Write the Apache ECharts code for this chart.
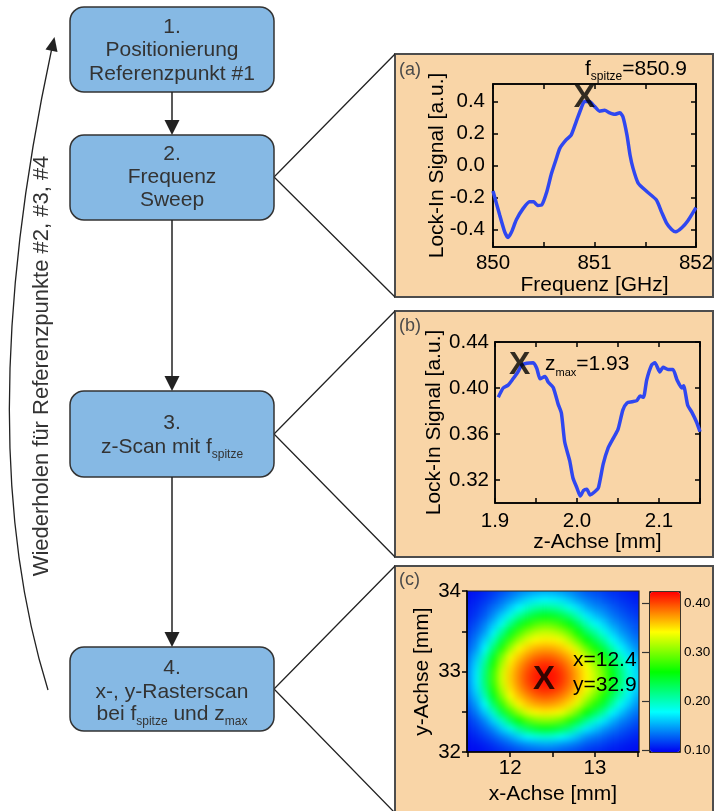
<!DOCTYPE html>
<html>
<head>
<meta charset="utf-8">
<script src="https://cdn.jsdelivr.net/npm/echarts@6/dist/echarts.min.js"></script>
<style>
  html, body { margin: 0; padding: 0; background: #ffffff; }
  #chart { width: 714px; height: 811px; }
  /* the raster-scan layer (zlevel 1) is shaded smoothly and cropped to its plot rectangle */
  #chart canvas[data-zr-dom-id="zr_1"] {
    filter: blur(3.5px);
    clip-path: inset(591px 75px 59px 467px);
  }
</style>
</head>
<body>
<div id="chart"></div>
<script>
// ---------- (a) frequency sweep ----------
const freqGHz = [850.0, 850.066, 850.115, 850.148, 850.18, 850.23, 850.296, 850.36, 850.4, 850.44,
  850.48, 850.53, 850.576, 850.625, 850.658, 850.72, 850.77, 850.82, 850.87, 850.9,
  850.95, 851.0, 851.05, 851.1, 851.15, 851.2, 851.25, 851.28, 851.32, 851.35,
  851.38, 851.43, 851.51, 851.61, 851.66, 851.71, 851.76, 851.8, 851.86, 851.92, 852.0];
const sweepSignal = [-0.16, -0.31, -0.415, -0.45, -0.42, -0.34, -0.27, -0.227, -0.227, -0.25,
  -0.247, -0.164, -0.05, 0.045, 0.107, 0.16, 0.19, 0.275, 0.36, 0.40,
  0.40, 0.37, 0.34, 0.345, 0.33, 0.32, 0.33, 0.305, 0.19, 0.066,
  -0.018, -0.11, -0.16, -0.216, -0.29, -0.36, -0.40, -0.415, -0.39, -0.346, -0.264];
const fSpitze = 850.9;
const fSpitzeSignal = 0.42;
const freqTickLabels = [850, 851, 852];
const freqTickMarks = [850, 850.5, 851, 851.5, 852];
const sweepTicks = [-0.4, -0.2, 0, 0.2, 0.4];

// ---------- (b) z scan ----------
const zPosMm = [1.904, 1.910, 1.916, 1.922, 1.928, 1.9325, 1.9386, 1.9467, 1.951, 1.955,
  1.961, 1.965, 1.971, 1.977, 1.981, 1.985, 1.991, 1.995, 2.0, 2.004,
  2.008, 2.012, 2.016, 2.022, 2.026, 2.032, 2.038, 2.044, 2.05, 2.056,
  2.061, 2.067, 2.073, 2.077, 2.081, 2.085, 2.091, 2.095, 2.101, 2.105,
  2.111, 2.117, 2.122, 2.128, 2.130, 2.135, 2.140, 2.146, 2.15];
const zScanSignal = [0.392, 0.400, 0.4025, 0.408, 0.414, 0.42, 0.4215, 0.422, 0.417, 0.408,
  0.41, 0.405, 0.4005, 0.386, 0.378, 0.353, 0.337, 0.322, 0.313, 0.306,
  0.311, 0.312, 0.307, 0.310, 0.313, 0.334, 0.348, 0.356, 0.364, 0.381,
  0.387, 0.388, 0.389, 0.393, 0.392, 0.407, 0.42, 0.422, 0.414, 0.418,
  0.416, 0.416, 0.407, 0.40, 0.402, 0.385, 0.379, 0.37, 0.362];
const zMax = 1.93;
const zMaxSignal = 0.42;
const zTickLabels = [1.9, 2.0, 2.1];
const zTickMarks = [1.9, 1.95, 2.0, 2.05, 2.1, 2.15];
const zScanTicks = [0.32, 0.36, 0.40, 0.44];

// ---------- (c) x-y raster scan ----------
const rasterX = [11.5, 11.6, 11.7, 11.8, 11.9, 12.0, 12.1, 12.2, 12.3, 12.4, 12.5,
  12.6, 12.7, 12.8, 12.9, 13.0, 13.1, 13.2, 13.3, 13.4, 13.5];
const rasterY = [32.0, 32.1, 32.2, 32.3, 32.4, 32.5, 32.6, 32.7, 32.8, 32.9, 33.0,
  33.1, 33.2, 33.3, 33.4, 33.5, 33.6, 33.7, 33.8, 33.9, 34.0];
// one row per rasterY entry, one column per rasterX entry
const rasterSignal = [
  [0.100,0.100,0.103,0.106,0.110,0.114,0.118,0.122,0.124,0.125,0.125,0.123,0.120,0.116,0.112,0.109,0.107,0.104,0.103,0.101,0.100],
  [0.101,0.104,0.108,0.114,0.121,0.128,0.136,0.142,0.146,0.149,0.148,0.143,0.138,0.132,0.124,0.120,0.116,0.111,0.108,0.105,0.103],
  [0.104,0.110,0.117,0.126,0.138,0.150,0.165,0.177,0.186,0.191,0.189,0.180,0.170,0.157,0.143,0.136,0.129,0.122,0.117,0.112,0.108],
  [0.109,0.117,0.128,0.142,0.163,0.185,0.212,0.232,0.246,0.252,0.249,0.238,0.221,0.197,0.173,0.161,0.147,0.137,0.128,0.121,0.115],
  [0.114,0.125,0.141,0.165,0.196,0.231,0.261,0.284,0.298,0.304,0.302,0.291,0.271,0.243,0.214,0.192,0.173,0.155,0.141,0.132,0.123],
  [0.121,0.137,0.161,0.195,0.238,0.277,0.309,0.332,0.343,0.347,0.345,0.338,0.319,0.291,0.258,0.234,0.209,0.178,0.161,0.144,0.133],
  [0.128,0.148,0.180,0.228,0.275,0.315,0.344,0.359,0.369,0.373,0.371,0.363,0.350,0.329,0.296,0.270,0.243,0.209,0.180,0.161,0.143],
  [0.134,0.160,0.201,0.252,0.301,0.340,0.361,0.377,0.390,0.395,0.392,0.383,0.368,0.348,0.321,0.296,0.267,0.232,0.201,0.173,0.153],
  [0.139,0.169,0.217,0.270,0.319,0.351,0.374,0.393,0.407,0.412,0.410,0.399,0.382,0.361,0.339,0.314,0.286,0.249,0.217,0.184,0.162],
  [0.141,0.173,0.224,0.279,0.327,0.357,0.380,0.401,0.414,0.419,0.417,0.407,0.389,0.366,0.344,0.322,0.294,0.256,0.224,0.191,0.166],
  [0.141,0.172,0.222,0.277,0.326,0.356,0.379,0.399,0.412,0.418,0.416,0.406,0.387,0.365,0.343,0.321,0.293,0.255,0.222,0.189,0.165],
  [0.138,0.167,0.213,0.266,0.315,0.349,0.371,0.390,0.404,0.409,0.407,0.396,0.379,0.358,0.337,0.310,0.282,0.245,0.213,0.181,0.160],
  [0.133,0.158,0.197,0.248,0.297,0.337,0.357,0.374,0.386,0.391,0.389,0.379,0.365,0.346,0.317,0.292,0.263,0.228,0.197,0.171,0.151],
  [0.127,0.145,0.177,0.223,0.269,0.309,0.340,0.355,0.365,0.369,0.367,0.359,0.346,0.323,0.291,0.264,0.237,0.204,0.177,0.158,0.141],
  [0.122,0.138,0.163,0.197,0.240,0.279,0.310,0.331,0.342,0.346,0.345,0.337,0.318,0.290,0.259,0.235,0.210,0.180,0.162,0.145,0.134],
  [0.117,0.130,0.147,0.175,0.212,0.248,0.280,0.302,0.317,0.323,0.320,0.309,0.290,0.261,0.230,0.208,0.184,0.164,0.147,0.136,0.126],
  [0.112,0.123,0.138,0.158,0.183,0.217,0.246,0.269,0.283,0.290,0.287,0.276,0.256,0.230,0.201,0.180,0.166,0.148,0.138,0.128,0.121],
  [0.108,0.116,0.127,0.143,0.164,0.186,0.211,0.231,0.245,0.251,0.249,0.239,0.222,0.198,0.174,0.160,0.148,0.136,0.128,0.121,0.115],
  [0.106,0.112,0.121,0.132,0.144,0.162,0.178,0.195,0.208,0.213,0.211,0.201,0.185,0.169,0.153,0.143,0.136,0.127,0.121,0.115,0.110],
  [0.103,0.108,0.114,0.122,0.133,0.143,0.155,0.166,0.173,0.177,0.175,0.170,0.160,0.147,0.138,0.131,0.125,0.119,0.114,0.110,0.107],
  [0.101,0.104,0.109,0.115,0.122,0.130,0.138,0.144,0.149,0.152,0.151,0.146,0.140,0.133,0.125,0.121,0.117,0.112,0.109,0.106,0.103]
];
const peakX = 12.4;
const peakY = 32.9;
const rasterXLabels = [12, 13];
const rasterXMarks = [11.5, 12, 12.5, 13, 13.5];
const rasterYLabels = [32, 33, 34];
const rasterYMarks = [32, 32.5, 33, 33.5, 34];
const colorbarTicks = [0.10, 0.20, 0.30, 0.40];
const colorMin = 0.097;
const colorMax = 0.4225;

// ---------- styling ----------
const FONT = '"Liberation Sans", Arial, Helvetica, sans-serif';
const PEACH = '#f9d5a7';
const BOX_BLUE = '#86b9e4';
const CURVE_BLUE = '#2f47f0';
const INK = '#333333';
const TICK_FS = 20.5;
const NAME_FS = 21;

const chart = echarts.init(document.getElementById('chart'), null, { renderer: 'canvas' });

const lineStyleAxis = { color: '#000', width: 1.5 };

function bottomAxis(grid, min, max, marks, labels, fmt, name, gap, inside, margin, zlevel) {
  return {
    gridIndex: grid, type: 'value', position: 'bottom', min, max, zlevel: zlevel || 0,
    axisLine: { show: true, onZero: false, lineStyle: lineStyleAxis },
    axisTick: { show: true, inside, length: 5, customValues: marks, lineStyle: lineStyleAxis },
    axisLabel: { customValues: labels, formatter: fmt, fontSize: TICK_FS, fontFamily: FONT, color: '#000', margin },
    splitLine: { show: false },
    name, nameLocation: 'middle', nameGap: gap, nameMoveOverlap: false,
    nameTextStyle: { fontSize: NAME_FS, fontFamily: FONT, color: '#000' }
  };
}
function leftAxis(grid, min, max, marks, labels, fmt, name, gap, inside, margin, zlevel) {
  return {
    gridIndex: grid, type: 'value', position: 'left', min, max, zlevel: zlevel || 0,
    axisLine: { show: true, onZero: false, lineStyle: lineStyleAxis },
    axisTick: { show: true, inside, length: 5, customValues: marks, lineStyle: lineStyleAxis },
    axisLabel: { customValues: labels, formatter: fmt, fontSize: TICK_FS, fontFamily: FONT, color: '#000', margin },
    splitLine: { show: false },
    name, nameLocation: 'middle', nameGap: gap, nameMoveOverlap: false,
    nameTextStyle: { fontSize: NAME_FS, fontFamily: FONT, color: '#000' }
  };
}
function mirrorAxis(grid, pos, min, max, marks) {
  return {
    gridIndex: grid, type: 'value', position: pos, min, max,
    axisLine: { show: true, onZero: false, lineStyle: lineStyleAxis },
    axisTick: { show: true, inside: true, length: 5, customValues: marks, lineStyle: lineStyleAxis },
    axisLabel: { show: false },
    splitLine: { show: false }
  };
}

// raster cells as [x, y, signal]
const rasterData = [];
rasterY.forEach((y, j) => {
  rasterX.forEach((x, i) => { rasterData.push([x, y, rasterSignal[j][i]]); });
});
const halfStepX = (rasterX[1] - rasterX[0]) / 2;
const halfStepY = (rasterY[1] - rasterY[0]) / 2;
const xFirst = rasterX[0], xLast = rasterX[rasterX.length - 1];
const yFirst = rasterY[0], yLast = rasterY[rasterY.length - 1];

function renderCell(params, api) {
  const x = api.value(0);
  const y = api.value(1);
  const p0 = api.coord([x - halfStepX, y + halfStepY]);
  const p1 = api.coord([x + halfStepX, y - halfStepY]);
  let x0 = p0[0], y0 = p0[1], x1 = p1[0] + 0.7, y1 = p1[1] + 0.7;
  // outer cells reach past the frame so the shaded edge stays saturated
  if (x === xFirst) x0 -= 12;
  if (x === xLast) x1 += 12;
  if (y === yLast) y0 -= 12;
  if (y === yFirst) y1 += 12;
  return { type: 'rect', shape: { x: x0, y: y0, width: x1 - x0, height: y1 - y0 }, style: { fill: api.visual('color') } };
}

function markerSeries(xIdx, yIdx, point, size, zlevel) {
  return {
    type: 'scatter', xAxisIndex: xIdx, yAxisIndex: yIdx, data: [point], zlevel: zlevel || 0,
    symbolSize: 1, itemStyle: { color: 'rgba(0,0,0,0)' }, silent: true, z: 6,
    label: { show: true, position: 'inside', formatter: 'X', fontSize: size, fontWeight: 'bold', fontFamily: FONT, color: '#000' }
  };
}

// ---------- decorations: flowchart, panels, annotations ----------
function txt(x, y, text, extra, elExtra) {
  return Object.assign({
    type: 'text', x, y, z: 30, silent: true,
    style: Object.assign({ text, fontSize: 21, fontFamily: FONT, fill: INK, align: 'center', verticalAlign: 'middle' }, extra || {})
  }, elExtra || {});
}
function subTxt(x, y, parts, mainSize, subSize, color, align) {
  const text = parts.map(p => '{' + (p[1] ? 's' : 'm') + '|' + p[0] + '}').join('');
  return txt(x, y, text, {
    align, fill: color,
    rich: {
      m: { fontSize: mainSize, fontFamily: FONT, fill: color, lineHeight: 28 },
      s: { fontSize: subSize, fontFamily: FONT, fill: color, lineHeight: 12, verticalAlign: 'bottom' }
    }
  });
}
function box(y, h) {
  return { type: 'rect', z: 10, silent: true, shape: { x: 70, y, width: 204, height: h, r: 14 },
    style: { fill: BOX_BLUE, stroke: '#333', lineWidth: 1.5 } };
}
function arrowDown(y1, y2) {
  return [
    { type: 'line', z: 10, silent: true, shape: { x1: 172, y1, x2: 172, y2: y2 - 13 }, style: { stroke: '#222', lineWidth: 1.5 } },
    { type: 'polygon', z: 10, silent: true, shape: { points: [[164.5, y2 - 15], [179.5, y2 - 15], [172, y2]] }, style: { fill: '#222' } }
  ];
}
function panel(y, h) {
  return { type: 'rect', z: -10, silent: true, shape: { x: 395, y, width: 318, height: h },
    style: { fill: PEACH, stroke: '#4d4d4d', lineWidth: 2 } };
}
function zoomLines(yBox, yTop, yBottom) {
  return { type: 'polyline', z: 5, silent: true, shape: { points: [[395, yTop], [274, yBox], [395, yBottom]] },
    style: { stroke: '#222', lineWidth: 1.3, fill: null } };
}

const graphics = [
  panel(54, 243), panel(311, 246), panel(566, 250),
  zoomLines(177, 54, 297), zoomLines(434, 311, 557), zoomLines(689, 566, 813),
  box(7, 85), box(135, 85), box(391, 86), box(647, 84),
  ...arrowDown(92, 135), ...arrowDown(220, 391), ...arrowDown(477, 647),
  txt(172, 27, '1.'), txt(172, 50, 'Positionierung'), txt(172, 74, 'Referenzpunkt #1'),
  txt(172, 154, '2.'), txt(172, 177, 'Frequenz'), txt(172, 200, 'Sweep'),
  txt(172, 423, '3.'),
  subTxt(172, 447, [['z-Scan mit f', false], ['spitze', true]], 21, 12, INK, 'center'),
  txt(172, 668, '4.'), txt(172, 692, 'x-, y-Rasterscan'),
  subTxt(172, 714, [['bei f', false], ['spitze', true], [' und z', false], ['max', true]], 21, 12, INK, 'center'),
  // loop-back arrow on the left
  { type: 'bezierCurve', z: 10, silent: true,
    shape: { x1: 48, y1: 690, x2: 51.5, y2: 50, cpx1: -31, cpy1: 435 },
    style: { stroke: '#222', lineWidth: 1.3, fill: null } },
  { type: 'polygon', z: 10, silent: true, shape: { points: [[54.5, 37], [57.5, 52], [45.5, 49.5]] }, style: { fill: '#222' } },
  txt(42, 366, 'Wiederholen für Referenzpunkte #2, #3, #4', { fontSize: 22 }, { rotation: Math.PI / 2 }),
  // panel tags
  txt(399, 70, '(a)', { align: 'left', fontSize: 18, fill: '#4a4a4a' }),
  txt(399, 326, '(b)', { align: 'left', fontSize: 18, fill: '#4a4a4a' }),
  txt(399, 580, '(c)', { align: 'left', fontSize: 18, fill: '#4a4a4a' }),
  // annotations
  subTxt(585, 69, [['f', false], ['spitze', true], ['=' + fSpitze.toFixed(1), false]], 21, 12, '#000', 'left'),
  subTxt(545, 364, [['z', false], ['max', true], ['=' + zMax.toFixed(2), false]], 21, 11, '#000', 'left'),
  txt(573, 660, 'x=' + peakX.toFixed(1), { align: 'left', fill: '#000' }, { zlevel: 2 }),
  txt(573, 685, 'y=' + peakY.toFixed(1), { align: 'left', fill: '#000' }, { zlevel: 2 })
];

const gridBase = { show: true, borderColor: '#000', borderWidth: 1.5, backgroundColor: 'transparent', containLabel: false, outerBoundsMode: 'none' };

const option = {
  animation: false,
  backgroundColor: '#ffffff',
  textStyle: { fontFamily: FONT },
  grid: [
    Object.assign({ left: 493, top: 84, width: 203, height: 163 }, gridBase),
    Object.assign({ left: 495, top: 342, width: 205, height: 161 }, gridBase),
    Object.assign({ left: 467, top: 591, width: 172, height: 161, zlevel: 2 }, gridBase, { borderWidth: 1.2, borderColor: '#222' }),
    Object.assign({ left: 650, top: 592, width: 30, height: 160 }, gridBase)
  ],
  xAxis: [
    bottomAxis(0, 850, 852, freqTickMarks, freqTickLabels, v => String(v), 'Frequenz [GHz]', 28, true, 6),
    mirrorAxis(0, 'top', 850, 852, freqTickMarks),
    bottomAxis(1, 1.9, 2.15, zTickMarks, zTickLabels, v => v.toFixed(1), 'z-Achse [mm]', 29, true, 8),
    mirrorAxis(1, 'top', 1.9, 2.15, zTickMarks),
    bottomAxis(2, 11.49, 13.52, rasterXMarks, rasterXLabels, v => String(v), 'x-Achse [mm]', 32, false, 6, 2),
    { gridIndex: 3, type: 'value', min: 0, max: 1, show: false }
  ],
  yAxis: [
    leftAxis(0, -0.51, 0.51, sweepTicks, sweepTicks, v => v.toFixed(1), 'Lock-In Signal [a.u.]', 45, true, 8),
    mirrorAxis(0, 'right', -0.51, 0.51, sweepTicks),
    leftAxis(1, 0.30, 0.44, zScanTicks, zScanTicks, v => v.toFixed(2), 'Lock-In Signal [a.u.]', 50, true, 6),
    mirrorAxis(1, 'right', 0.30, 0.44, zScanTicks),
    leftAxis(2, 32, 34, rasterYMarks, rasterYLabels, v => String(v), 'y-Achse [mm]', 34, false, 6, 2),
    {
      gridIndex: 3, type: 'value', position: 'right', min: colorMin, max: colorMax,
      axisLine: { show: true, lineStyle: { color: '#000', width: 1.2 } },
      axisTick: { show: true, inside: true, length: 8, customValues: colorbarTicks, lineStyle: { color: '#333', width: 1.2 } },
      axisLabel: { customValues: colorbarTicks, formatter: v => v.toFixed(2), fontSize: 13.5, fontFamily: FONT, color: '#000', margin: 4 },
      splitLine: { show: false }
    }
  ],
  visualMap: {
    type: 'continuous', seriesIndex: 4, dimension: 2,
    min: colorMin, max: colorMax, calculable: false, orient: 'vertical',
    left: 650, top: 592, itemWidth: 30, itemHeight: 160, padding: 0,
    inRange: { color: ['#0000f0', '#00ffff', '#00ff00', '#ffff00', '#ff0000'] }
  },
  series: [
    { type: 'line', xAxisIndex: 0, yAxisIndex: 0, data: freqGHz.map((f, i) => [f, sweepSignal[i]]),
      symbol: 'none', smooth: 0.2, lineStyle: { color: CURVE_BLUE, width: 3.5 }, z: 4 },
    markerSeries(0, 0, [fSpitze, fSpitzeSignal], 32),
    { type: 'line', xAxisIndex: 2, yAxisIndex: 2, data: zPosMm.map((z, i) => [z, zScanSignal[i]]),
      symbol: 'none', smooth: 0.2, lineStyle: { color: CURVE_BLUE, width: 3.5 }, z: 4 },
    markerSeries(2, 2, [zMax, zMaxSignal], 32),
    { type: 'custom', xAxisIndex: 4, yAxisIndex: 4, dimensions: ['x', 'y', 'signal'], zlevel: 1,
      encode: { x: 0, y: 1 }, data: rasterData, renderItem: renderCell, z: 2, silent: true, clip: false },
    markerSeries(4, 4, [peakX, peakY], 33, 2)
  ],
  graphic: { elements: graphics }
};

chart.setOption(option);
</script>
</body>
</html>
